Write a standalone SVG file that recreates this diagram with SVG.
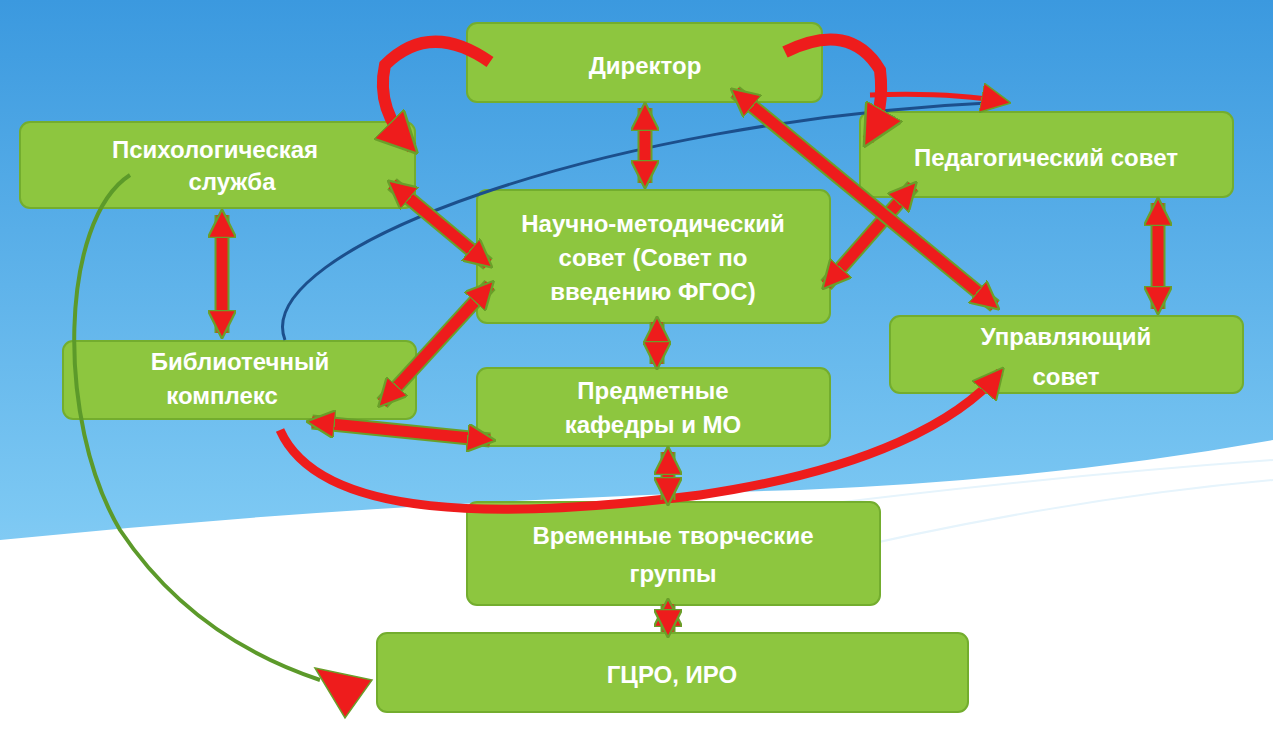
<svg xmlns="http://www.w3.org/2000/svg" width="1273" height="737" viewBox="0 0 1273 737">
<defs>
<linearGradient id="sky" x1="0" y1="0" x2="0" y2="1">
<stop offset="0" stop-color="#3b99df"/><stop offset="0.7" stop-color="#7cc8f3"/><stop offset="1" stop-color="#a8dcf8"/>
</linearGradient>
<marker id="ah" viewBox="0 0 10 10" refX="8" refY="5" markerWidth="2.6" markerHeight="2.6" orient="auto-start-reverse">
<path d="M0,0 L10,5 L0,10 Z" fill="#ee1c1c" stroke="#6a9f2a" stroke-width="0.8"/>
</marker>
<marker id="ah2" viewBox="0 0 10 10" refX="8" refY="5" markerWidth="3.5" markerHeight="3.5" orient="auto">
<path d="M0,0 L10,5 L0,10 Z" fill="#ee1c1c" stroke="#6a9f2a" stroke-width="0.6"/>
</marker>
<marker id="ah3" viewBox="0 0 10 10" refX="8" refY="5" markerWidth="6" markerHeight="6" orient="auto">
<path d="M0,0 L10,5 L0,10 Z" fill="#ee1c1c" stroke="#6a9f2a" stroke-width="0.5"/>
</marker>
</defs>
<style>
.n{fill:#8dc63f;stroke:#73ad2e;stroke-width:2}
.t{font-family:"Liberation Sans",Arial,sans-serif;font-weight:bold;font-size:24px;fill:#fff;text-anchor:middle}
.o{stroke:#6a9f2a;stroke-width:15;fill:none}
.a{stroke:#ee1c1c;stroke-width:11;fill:none}
</style>
<rect width="1273" height="737" fill="url(#sky)"/>
<path d="M0,540 Q400,500 800,490 Q1050,480 1273,440 L1273,737 L0,737 Z" fill="#fff"/>
<path d="M700,520 Q1000,480 1273,460 M800,560 Q1050,500 1273,480" stroke="#e6f4fc" stroke-width="2" fill="none"/>
<g id="director"><rect class="n" x="467" y="23" width="355" height="79" rx="10"/><text class="t" x="645" y="74">Директор</text></g>
<g id="psych"><rect class="n" x="20" y="122" width="395" height="86" rx="10"/><text class="t" x="215" y="158">Психологическая</text><text class="t" x="232" y="190">служба</text></g>
<g id="ped"><rect class="n" x="860" y="112" width="373" height="85" rx="10"/><text class="t" x="1046" y="166">Педагогический совет</text></g>
<g id="nms"><rect class="n" x="477" y="190" width="353" height="133" rx="10"/><text class="t" x="653" y="232">Научно-методический</text><text class="t" x="653" y="266">совет (Совет по</text><text class="t" x="653" y="300">введению ФГОС)</text></g>
<g id="lib"><rect class="n" x="63" y="341" width="353" height="78" rx="10"/><text class="t" x="240" y="370">Библиотечный</text><text class="t" x="222" y="404">комплекс</text></g>
<g id="pred"><rect class="n" x="477" y="368" width="353" height="78" rx="10"/><text class="t" x="653" y="399">Предметные</text><text class="t" x="653" y="433">кафедры и МО</text></g>
<g id="upr"><rect class="n" x="890" y="316" width="353" height="77" rx="10"/><text class="t" x="1066" y="345">Управляющий</text><text class="t" x="1066" y="385">совет</text></g>
<g id="vtg"><rect class="n" x="467" y="502" width="413" height="103" rx="10"/><text class="t" x="673" y="544">Временные творческие</text><text class="t" x="673" y="582">группы</text></g>
<g id="gcro"><rect class="n" x="377" y="633" width="591" height="79" rx="10"/><text class="t" x="672" y="683">ГЦРО, ИРО</text></g>
<g id="connectors">
<path d="M285,340 C250,250 600,120 1005,102" stroke="#1c4f8c" stroke-width="3" fill="none"/>
<path d="M870,95 Q950,92 1005,102" stroke="#ee1c1c" stroke-width="5" fill="none" marker-end="url(#ah3)"/>
<path d="M280,430 C320,520 500,520 700,495 C870,470 960,420 1000,372" stroke="#ee1c1c" stroke-width="9" fill="none" marker-end="url(#ah2)"/>
<path d="M130,175 C60,220 55,420 120,530 C180,620 260,660 320,680" stroke="#5c9a2a" stroke-width="4" fill="none"/>
<path d="M315,668 L372,680 L345,718 Z" fill="#ee1c1c" stroke="#6a9f2a" stroke-width="1.5"/>
<path d="M490,62 Q430,20 385,65 Q375,110 412,148" stroke="#ee1c1c" stroke-width="12" fill="none" marker-end="url(#ah2)"/>
<path d="M785,52 Q850,20 880,70 Q885,110 868,140" stroke="#ee1c1c" stroke-width="12" fill="none" marker-end="url(#ah2)"/>
<path class="o" d="M645,108 L645,183"/><path class="a" d="M645,108 L645,183" marker-start="url(#ah)" marker-end="url(#ah)"/>
<path class="o" d="M222,215 L222,333"/><path class="a" d="M222,215 L222,333" marker-start="url(#ah)" marker-end="url(#ah)"/>
<path class="o" d="M1158,203 L1158,309"/><path class="a" d="M1158,203 L1158,309" marker-start="url(#ah)" marker-end="url(#ah)"/>
<path class="o" d="M657,322 L657,364"/><path class="a" d="M657,322 L657,364" marker-start="url(#ah)" marker-end="url(#ah)"/>
<path class="o" d="M668,452 L668,500"/><path class="a" d="M668,452 L668,500" marker-start="url(#ah)" marker-end="url(#ah)"/>
<path class="o" d="M668,604 L668,632"/><path class="a" d="M668,604 L668,632" marker-start="url(#ah)" marker-end="url(#ah)"/>
<path class="o" d="M392,184 L488,264"/><path class="a" d="M392,184 L488,264" marker-start="url(#ah)" marker-end="url(#ah)"/>
<path class="o" d="M490,285 L382,403"/><path class="a" d="M490,285 L382,403" marker-start="url(#ah)" marker-end="url(#ah)"/>
<path class="o" d="M312,422 L490,440"/><path class="a" d="M312,422 L490,440" marker-start="url(#ah)" marker-end="url(#ah)"/>
<path class="o" d="M913,186 L826,285"/><path class="a" d="M913,186 L826,285" marker-start="url(#ah)" marker-end="url(#ah)"/>
<path class="o" d="M735,92 L995,306"/><path class="a" d="M735,92 L995,306" marker-start="url(#ah)" marker-end="url(#ah)"/>
</g>
</svg>
